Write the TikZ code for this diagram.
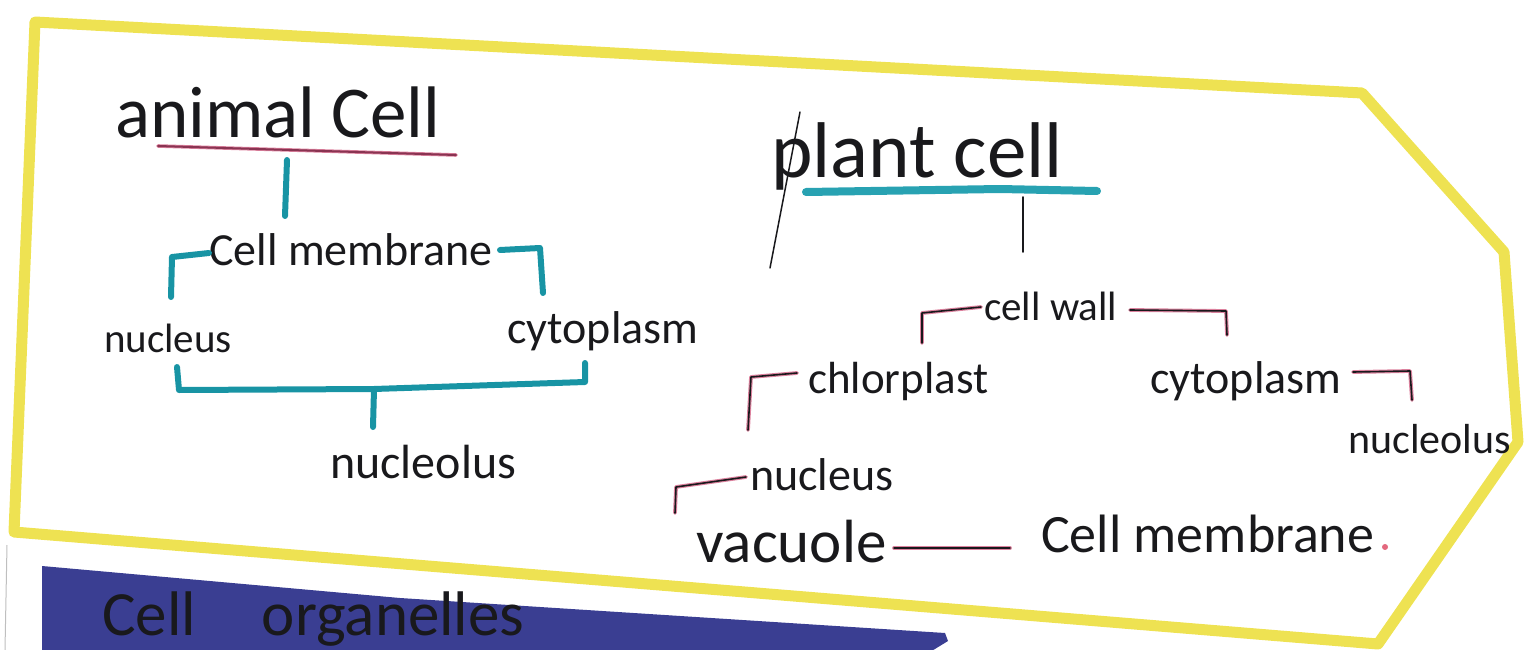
\documentclass[tikz,border=0pt]{standalone}
\usepackage{fontspec}
\setmainfont{Carlito}
\definecolor{hlyellow}{RGB}{238,226,82}
\definecolor{tealpen}{RGB}{24,148,164}
\definecolor{tealpen2}{RGB}{40,162,178}
\definecolor{maroonpen}{RGB}{138,52,82}
\definecolor{pinkhalo}{RGB}{220,130,158}
\definecolor{bandblue}{RGB}{58,62,146}
\definecolor{inkc}{RGB}{25,25,28}
\tikzset{
  hw/.style={font=\fontsize{#1}{#1}\selectfont, anchor=base west, inner sep=0pt, text=inkc},
  yellowpen/.style={draw=hlyellow, line width=11pt, line join=round, line cap=round},
  tealline/.style={draw=tealpen, line width=6pt, line join=round, line cap=round},
  inkline/.style={draw=pinkhalo, double=inkc, double distance=1.6pt, line width=1.1pt, line join=round, line cap=round},
  plainink/.style={draw=inkc, line width=1.8pt, line cap=round},
}
\begin{document}
\begin{tikzpicture}[x=1pt,y=-1pt]
\useasboundingbox (0,0) rectangle (1525,650);
\clip (0,0) rectangle (1525,650);
% page edge
\draw[black!25, line width=1pt] (7,545) -- (5,650);
% yellow frame
\coordinate (y1) at (35,22);
\coordinate (y2) at (1362,93);
\coordinate (y3) at (1504,252);
\coordinate (y4) at (1518,442);
\coordinate (y5) at (1378,644);
\coordinate (y6) at (14,532);
\draw[yellowpen] (y1) -- (y2) -- (y3) -- (y4) -- (y5) -- (y6) -- cycle;
% blue band
\fill[bandblue] (42,566) -- (400,598) -- (945,633) -- (948,641) -- (930,652) -- (42,652) -- cycle;
\node[hw=63] (org) at (102,635) {Cell\hspace{66pt}organelles};

% ---- animal cell ----
\node[hw=73] (ac) at (115,138) {animal Cell};
\draw[draw=pinkhalo, double=maroonpen, double distance=2pt, line width=0.8pt, line cap=round] (158,146) -- (456,155);
\coordinate (acs1) at (287,160);
\coordinate (acs2) at (285,216);
\draw[tealline] (acs1) -- (acs2);
\node[hw=46] (acm) at (209,265) {Cell membrane};
\node[hw=41] (anu) at (104,352) {nucleus};
\node[hw=46] (acy) at (507,343) {cytoplasm};
\node[hw=48] (anl) at (330,478) {nucleolus};
\draw[tealline] (acm.west |- 0,253) -- (172,257) -- (171,297);
\draw[tealline] (500,250) -- (540,248) -- (543,293);
\coordinate (ab1) at (177,367);
\coordinate (ab2) at (585,363);
\coordinate (abm) at (374,389);
\draw[tealline] (ab1) -- (179,390) -- (abm) -- (585,382) -- (ab2);
\draw[tealline] (abm) -- (373,427);

% ---- plant cell ----
\node[hw=79] (pc) at (771,177) {plant cell};
\draw[plainink, line width=1.5pt] (800,112) -- (770,268);
\draw[draw=tealpen2, line width=8pt, line cap=round] (806,192) -- (1000,189) -- (1097,191);
\coordinate (ps1) at (1023,197);
\coordinate (ps2) at (1023,252);
\draw[plainink] (ps1) -- (ps2);
\node[hw=41] (pcw) at (984,320) {cell wall};
\draw[inkline] (981,307) -- (922,313) -- (922,343);
\draw[inkline] (1130,310) -- (1226,311) -- (1227,335);
\node[hw=45] (pch) at (808,393) {chlorplast};
\draw[inkline] (797,373) -- (751,377) -- (748,430);
\node[hw=46] (pcy) at (1150,393) {cytoplasm};
\draw[inkline] (1353,372) -- (1410,371) -- (1412,400);
\node[hw=42] (pnl) at (1348,453) {nucleolus};
\node[hw=46] (pnu) at (750,490) {nucleus};
\draw[inkline] (746,477) -- (676,487) -- (675,513);
\node[hw=61] (pva) at (696,562) {vacuole};
\node[hw=54] (pcm) at (1041,552) {Cell membrane};
\draw[inkline] (894,548) -- (1010,548);
\fill[pinkhalo!80!red] (1385,547) circle (3pt);
\end{tikzpicture}
\end{document}
